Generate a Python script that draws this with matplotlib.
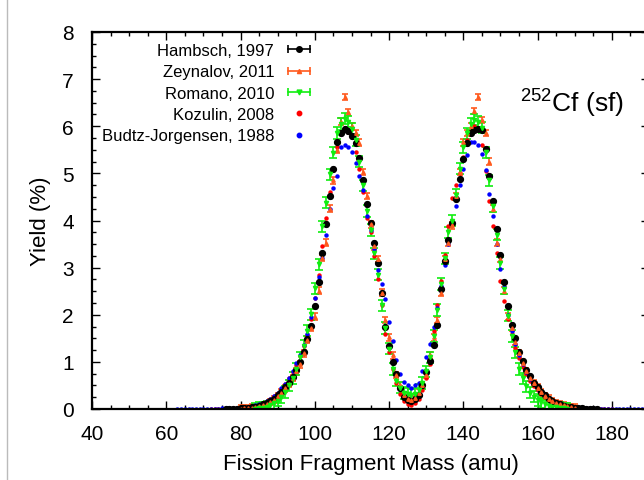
import numpy as np
import matplotlib.pyplot as plt
from matplotlib.lines import Line2D
from matplotlib.legend_handler import HandlerLine2D, HandlerTuple
from matplotlib.ticker import MultipleLocator

plt.rcParams['font.family'] = ['Liberation Sans', 'DejaVu Sans']
plt.rcParams['mathtext.fontset'] = 'custom'
plt.rcParams['mathtext.rm'] = 'Liberation Sans'

# fragment yields (%) vs mass (amu)
hambsch_mass = np.arange(76, 177)
hambsch_yield = [
    0.004, 0.005, 0.007, 0.010, 0.015, 0.020, 0.030, 0.040, 0.050, 0.070,
    0.100, 0.130, 0.170, 0.220, 0.290, 0.370, 0.460, 0.560, 0.680, 0.820,
    1.000, 1.200, 1.480, 1.770, 2.180, 2.700, 3.300, 3.920, 4.510, 5.100,
    5.660, 5.850, 5.950, 5.900, 5.800, 5.650, 5.320, 4.870, 4.340, 3.950,
    3.530, 3.090, 2.470, 1.750, 1.330, 0.990, 0.740, 0.450, 0.250, 0.200,
    0.180, 0.210, 0.300, 0.500, 0.780, 1.020, 1.360, 1.780, 2.540, 3.140,
    3.590, 3.940, 4.450, 4.890, 5.310, 5.650, 5.850, 5.920, 5.950, 5.930,
    5.510, 4.940, 4.410, 3.830, 3.260, 2.700, 2.180, 1.780, 1.500, 1.200,
    1.020, 0.830, 0.690, 0.560, 0.460, 0.370, 0.290, 0.220, 0.170, 0.130,
    0.100, 0.070, 0.050, 0.040, 0.030, 0.020, 0.015, 0.010, 0.007, 0.005,
    0.004]
hambsch_err = 0.04

zeynalov_mass = np.arange(80, 171)
zeynalov_yield = [
    0.010, 0.015, 0.020, 0.030, 0.040, 0.060, 0.080, 0.110, 0.150, 0.200,
    0.270, 0.350, 0.440, 0.540, 0.660, 0.800, 0.950, 1.180, 1.470, 1.720,
    1.960, 2.510, 3.200, 3.530, 4.250, 4.850, 5.500, 6.100, 6.620, 6.300,
    6.000, 5.860, 5.650, 5.030, 4.520, 3.920, 3.450, 3.180, 2.470, 1.890,
    1.520, 1.140, 0.720, 0.510, 0.300, 0.220, 0.200, 0.240, 0.350, 0.510,
    0.720, 1.140, 1.520, 1.890, 2.470, 3.180, 3.520, 3.900, 4.520, 5.030,
    5.660, 5.860, 6.000, 6.320, 6.620, 6.130, 5.860, 5.250, 4.250, 3.530,
    3.180, 2.510, 1.960, 1.720, 1.420, 1.180, 0.970, 0.800, 0.660, 0.550,
    0.450, 0.360, 0.280, 0.220, 0.170, 0.130, 0.100, 0.080, 0.060, 0.040,
    0.030]
zeynalov_err = 0.07

romano_mass = np.arange(84, 169)
romano_yield = [
    0.010, 0.020, 0.030, 0.050, 0.080, 0.120, 0.180, 0.250, 0.360, 0.500,
    0.660, 0.850, 1.100, 1.340, 1.660, 2.010, 2.560, 3.070, 3.880, 4.380,
    4.980, 5.440, 5.860, 6.050, 6.160, 6.100, 5.950, 5.700, 5.250, 4.750,
    4.200, 3.800, 3.300, 2.850, 2.200, 1.720, 1.280, 0.850, 0.600, 0.450,
    0.340, 0.320, 0.300, 0.320, 0.400, 0.550, 0.800, 1.100, 1.550, 2.100,
    2.650, 3.200, 3.750, 4.000, 4.550, 5.100, 5.550, 5.850, 6.050, 6.140,
    6.100, 5.970, 5.450, 4.850, 4.300, 3.700, 3.100, 2.550, 1.980, 1.550,
    1.200, 0.850, 0.650, 0.480, 0.350, 0.260, 0.190, 0.140, 0.100, 0.070,
    0.050, 0.035, 0.020, 0.015, 0.010]
romano_err = 0.12

kozulin_mass = np.arange(72, 181)
kozulin_yield = [
    0.003, 0.004, 0.005, 0.006, 0.008, 0.010, 0.012, 0.015, 0.020, 0.025,
    0.035, 0.050, 0.070, 0.090, 0.120, 0.160, 0.210, 0.270, 0.340, 0.430,
    0.530, 0.650, 0.780, 0.940, 1.120, 1.330, 1.580, 1.900, 2.350, 2.850,
    3.450, 4.050, 4.600, 5.100, 5.550, 5.870, 5.920, 5.870, 5.780, 5.450,
    5.100, 4.600, 4.050, 3.750, 3.250, 2.750, 2.200, 1.600, 1.200, 0.850,
    0.550, 0.320, 0.180, 0.100, 0.080, 0.120, 0.220, 0.400, 0.650, 0.950,
    1.650, 2.200, 2.720, 3.260, 3.880, 4.480, 4.750, 5.000, 5.350, 5.700,
    5.900, 6.000, 5.920, 5.600, 5.050, 4.410, 3.880, 3.300, 2.720, 2.300,
    1.900, 1.600, 1.300, 1.080, 0.900, 0.740, 0.600, 0.490, 0.400, 0.320,
    0.250, 0.190, 0.150, 0.110, 0.080, 0.060, 0.045, 0.035, 0.025, 0.020,
    0.015, 0.012, 0.010, 0.008, 0.006, 0.005, 0.004, 0.003, 0.003]

budtz_mass = np.arange(63, 189)
budtz_yield = [
    0.002, 0.002, 0.003, 0.003, 0.004, 0.004, 0.005, 0.006, 0.007, 0.008,
    0.009, 0.010, 0.012, 0.014, 0.017, 0.020, 0.025, 0.030, 0.040, 0.050,
    0.065, 0.080, 0.100, 0.130, 0.170, 0.220, 0.280, 0.350, 0.440, 0.540,
    0.660, 0.800, 0.980, 1.150, 1.350, 1.600, 1.950, 2.350, 2.800, 3.200,
    3.700, 4.250, 4.700, 4.950, 5.570, 5.600, 5.570, 5.450, 5.230, 4.950,
    4.650, 4.100, 3.800, 3.390, 2.950, 2.650, 2.330, 1.850, 1.450, 1.050,
    0.750, 0.580, 0.500, 0.450, 0.500, 0.550, 0.800, 1.100, 1.380, 1.750,
    2.150, 2.600, 3.050, 3.500, 3.950, 4.300, 4.750, 5.100, 5.400, 5.660,
    5.660, 5.600, 5.420, 5.080, 4.560, 4.100, 3.500, 2.970, 2.580, 2.000,
    1.650, 1.380, 1.150, 0.950, 0.780, 0.640, 0.520, 0.420, 0.340, 0.270,
    0.210, 0.160, 0.120, 0.090, 0.070, 0.050, 0.040, 0.030, 0.025, 0.020,
    0.016, 0.013, 0.011, 0.010, 0.009, 0.008, 0.007, 0.006, 0.005, 0.005,
    0.004, 0.004, 0.003, 0.003, 0.002, 0.002]

labels = ['Hambsch, 1997', 'Zeynalov, 2011', 'Romano, 2010',
          'Kozulin, 2008', 'Budtz-Jorgensen, 1988']
colors = ['black', '#ff5a1e', '#11ee11', 'red', 'blue']

fig = plt.figure(figsize=(6.44, 4.81), dpi=100)
ax = fig.add_axes([92/644, 71/481, 557/644, 377/481])

ax.errorbar(hambsch_mass, hambsch_yield, yerr=hambsch_err, fmt='o', ms=4.2,
            color=colors[0], elinewidth=1, capsize=1.5)
ax.errorbar(zeynalov_mass, zeynalov_yield, yerr=zeynalov_err, fmt='^', ms=2.5,
            color=colors[1], elinewidth=1.2, capsize=2.5, capthick=1.2)
ax.errorbar(romano_mass, romano_yield, yerr=romano_err, fmt='v', ms=3,
            color=colors[2], elinewidth=1.2, capsize=2.8, capthick=1.2)
ax.plot(kozulin_mass, kozulin_yield, 'o', ms=3.2, color=colors[3], mec='none')
ax.plot(budtz_mass, budtz_yield, 'o', ms=3.2, color=colors[4], mec='none')

ax.set_xlim(40, 190)
ax.set_ylim(0, 8)
ax.xaxis.set_major_locator(MultipleLocator(20))
ax.xaxis.set_minor_locator(MultipleLocator(5))
ax.yaxis.set_major_locator(MultipleLocator(1))
ax.yaxis.set_minor_locator(MultipleLocator(0.25))
ax.tick_params(which='both', direction='in', top=True, right=True, labelsize=15)
ax.tick_params(which='major', length=6, width=1)
ax.tick_params(which='minor', length=3, width=1)
ax.tick_params(axis='x', pad=11)
ax.tick_params(axis='y', pad=13)
for s in ax.spines.values():
    s.set_linewidth(1.6)

ax.set_xlabel('Fission Fragment Mass (amu)', fontsize=16, labelpad=7)
ax.set_ylabel('Yield (%)', fontsize=16, labelpad=8)

ax.text(520/644, 1 - 112/481, r'$^{252}$Cf (sf)', transform=fig.transFigure,
        fontsize=19, ha='left', va='baseline')

# legend samples in gnuplot style: horizontal bar with end caps
hmap = {}
handles = []
for i, c in enumerate(colors):
    mk = ['o', '^', 'v', 'o', 'o'][i]
    pt = Line2D([], [], color=c, marker=mk, ms=[4, 3, 3.5, 3.2, 3.2][i], ls='none')
    if i < 3:
        bar = Line2D([], [], color=c, lw=1.2, marker='|', ms=6, mew=1.2)
        hmap[bar] = HandlerLine2D(numpoints=2, marker_pad=0)
        handles.append((bar, pt))
    else:
        handles.append(pt)
hmap[tuple] = HandlerTuple(ndivide=1, pad=0)
ax.legend(handles, labels, handler_map=hmap, markerfirst=False, frameon=False,
          fontsize=12, loc='upper right', bbox_to_anchor=(310/644, 1 - 44/481),
          bbox_transform=fig.transFigure, borderpad=0, borderaxespad=0,
          handlelength=1.35, handletextpad=0.8, labelspacing=0.38, numpoints=1)

fig.add_artist(Line2D([7/644, 7/644], [0, 1], transform=fig.transFigure,
                      color='#bbbbbb', lw=1))

fig.savefig('out.png', dpi=100)
